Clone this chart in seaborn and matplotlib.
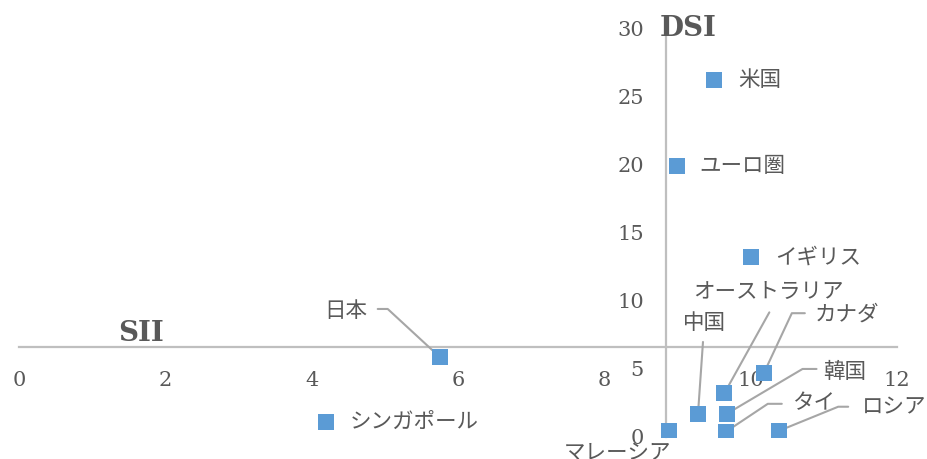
import matplotlib
matplotlib.use("Agg")
import matplotlib.pyplot as plt
from matplotlib.lines import Line2D
from matplotlib.transforms import Affine2D, ScaledTranslation
import numpy as np
import pandas as pd
import seaborn as sns

# Regional indicators: SII (horizontal) vs DSI (vertical)
countries = ["シンガポール", "日本", "マレーシア", "ユーロ圏", "中国", "米国",
             "オーストラリア", "タイ", "韓国", "イギリス", "カナダ", "ロシア"]
sii = [4.19, 5.75, 8.88, 8.99, 9.28, 9.50, 9.64, 9.66, 9.67, 10.01, 10.18, 10.39]
dsi = [1.08, 5.87, 0.46, 19.90, 1.69, 26.20, 3.20, 0.38, 1.69, 13.17, 4.68, 0.46]

x_ticks = [0, 2, 4, 6, 8, 10, 12]
y_ticks = [0, 5, 10, 15, 20, 25, 30]

df = pd.DataFrame({"country": countries, "SII": sii, "DSI": dsi})

TEXT = "#595959"
AXIS = "#BFBFBF"
LEADER = "#A6A6A6"
BLUE = "#5B9BD5"
NUM_FONT = "DejaVu Serif"
JP_FONT = ["Noto Sans CJK JP", "DejaVu Sans"]

sns.set_theme(style="white")
plt.rcParams["font.family"] = JP_FONT

fig = plt.figure(figsize=(9.27, 4.59), dpi=100)
ax = fig.add_axes([19 / 927, 22 / 459, 878 / 927, 409 / 459])

sns.scatterplot(data=df, x="SII", y="DSI", marker="s", s=118, color=BLUE,
                linewidth=0, ax=ax, zorder=4, legend=False)

ax.set_xlim(0, 12)
ax.set_ylim(0, 30)

# Axes cross at the means of both indicators
x_cross = float(np.mean(sii))
y_cross = float(np.mean(dsi))
for side in ["top", "right"]:
    ax.spines[side].set_visible(False)
ax.spines["left"].set_position(("data", x_cross))
ax.spines["bottom"].set_position(("data", y_cross))
for side in ["left", "bottom"]:
    ax.spines[side].set_color(AXIS)
    ax.spines[side].set_linewidth(1.6)
    ax.spines[side].set_zorder(1)

ax.set_xticks(x_ticks)
ax.set_yticks(y_ticks)
ax.set_xticklabels([str(v) for v in x_ticks], fontfamily=NUM_FONT)
ax.set_yticklabels([str(v) for v in y_ticks], fontfamily=NUM_FONT)
ax.tick_params(axis="x", length=0, pad=17, labelsize=15, labelcolor=TEXT)
ax.tick_params(axis="y", length=0, pad=16, labelsize=15, labelcolor=TEXT)
ax.set_xlabel("")
ax.set_ylabel("")
ax.grid(False)

# Axis titles
ax.text(9.14, 30, "DSI", fontfamily=NUM_FONT, fontsize=20, fontweight="bold",
        color=TEXT, ha="center", va="center", zorder=5)
ax.text(1.67, 7.62, "SII", fontfamily=NUM_FONT, fontsize=20, fontweight="bold",
        color=TEXT, ha="center", va="center", zorder=5)

# Label placement relative to each marker, in pixels (text offset, alignment, leader path)
labels = {
    "米国": ((24, 0), "left", None),
    "ユーロ圏": ((23, 0), "left", None),
    "イギリス": ((24, 0), "left", None),
    "シンガポール": ((24, 0), "left", None),
    "マレーシア": ((-51, -22), "center", None),
    "日本": ((-72, 46), "right", [(-62, 48), (-52, 48), (0, 0)]),
    "中国": ((6, 91), "center", [(5, 72), (0, 0)]),
    "オーストラリア": ((44, 101), "center", [(45, 81), (0, 0)]),
    "カナダ": ((51, 59), "left", [(41, 60), (28, 60), (0, 0)]),
    "韓国": ((97, 42), "left", [(90, 45), (76, 45), (0, 0)]),
    "タイ": ((66, 29), "left", [(56, 28), (42, 28), (0, 0)]),
    "ロシア": ((83, 23), "left", [(69, 24), (59, 24), (0, 0)]),
}

for name, x, y in zip(countries, sii, dsi):
    (dx, dy), ha, path = labels[name]
    ax.annotate(name, xy=(x, y), xytext=(dx, dy), textcoords="offset pixels",
                ha=ha, va="center", fontsize=15.5, color=TEXT,
                fontfamily=JP_FONT, zorder=5, annotation_clip=False)
    if path:
        trans = Affine2D() + ScaledTranslation(x, y, ax.transData)
        px, py = zip(*path)
        ax.add_line(Line2D(px, py, transform=trans, color=LEADER, lw=1.5,
                           zorder=3, clip_on=False))

fig.savefig("out.png", dpi=100)
